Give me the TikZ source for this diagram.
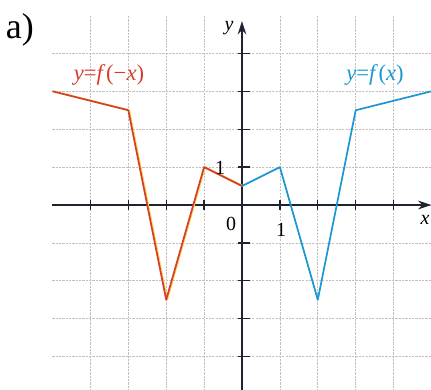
\documentclass[tikz,border=0pt]{standalone}
\usepackage{fontspec}
\setmainfont{Liberation Serif}
\usetikzlibrary{arrows.meta}
\definecolor{redc}{RGB}{214,62,44}
\definecolor{yelc}{RGB}{245,215,80}
\definecolor{bluec}{RGB}{28,150,212}
\definecolor{gridc}{RGB}{195,190,185}
\definecolor{axisc}{RGB}{30,35,45}
\begin{document}
\begin{tikzpicture}[x=1cm,y=1cm,
  gridline/.style={gridc, line width=0.45pt, dash pattern=on 1.6pt off 0.9pt},
  axisline/.style={axisc, line width=1.1pt},
  tickline/.style={axisc, line width=1pt},
  curve/.style={line width=1.3pt, line join=round},
  lbl/.style={font=\fontsize{15}{17}\selectfont, inner sep=0pt},
  flbl/.style={font=\fontsize{17}{19}\selectfont, inner sep=0pt}]
\useasboundingbox (-6.385,-4.881) rectangle (4.987,5.409);
% grid
\foreach \i in {-4,...,4} \draw[gridline] (-5,\i) -- (5,\i);
\foreach \i in {-4,...,-1,1,2,3,4} \draw[gridline] (\i,-5) -- (\i,5);
% axes
\coordinate (xs) at (-5,0); \coordinate (xe) at (5,0);
\coordinate (ys) at (0,-5); \coordinate (ye) at (0,4.85);
\draw[axisline,-{Stealth[length=10pt,width=6.5pt]}] (xs) -- (xe);
\draw[axisline,-{Stealth[length=10pt,width=6.5pt]}] (ys) -- (ye);
\foreach \i in {-4,...,-1,1,2,3,4} {
  \draw[tickline] (\i,-0.13) -- (\i,0.13);
  \draw[tickline] (-0.1,\i) -- (0.22,\i);
}
% curves
\draw[curve, yelc, xshift=0.7pt] (0,0.5) -- (-1,1) -- (-2,-2.5) -- (-3,2.5) -- (-5,3);
\draw[curve, redc] (0,0.5) -- (-1,1) -- (-2,-2.5) -- (-3,2.5) -- (-5,3);
\draw[curve, bluec] (0,0.5) -- (1,1) -- (2,-2.5) -- (3,2.5) -- (5,3);
% labels
\node[flbl, text=redc] (lf) at (-3.51,3.43) {\textit{y}=\textit{f}\kern0.5pt(−\textit{x})};
\node[flbl, text=bluec] (lg) at (3.51,3.43) {\textit{y}=\textit{f}\kern0.5pt(\textit{x})};
\node[inner sep=0pt, font=\fontsize{27}{29}\selectfont] (la) at (-5.86,4.62) {a)};
\node[lbl] (l0) at (-0.29,-0.5) {0};
\node[lbl] (l1x) at (1.03,-0.66) {1};
\node[lbl] (l1y) at (-0.58,0.98) {1};
\node[lbl] (lx) at (4.83,-0.40) {\textit{x}};
\node[lbl] (ly) at (-0.34,4.66) {\textit{y}};
\end{tikzpicture}
\end{document}
